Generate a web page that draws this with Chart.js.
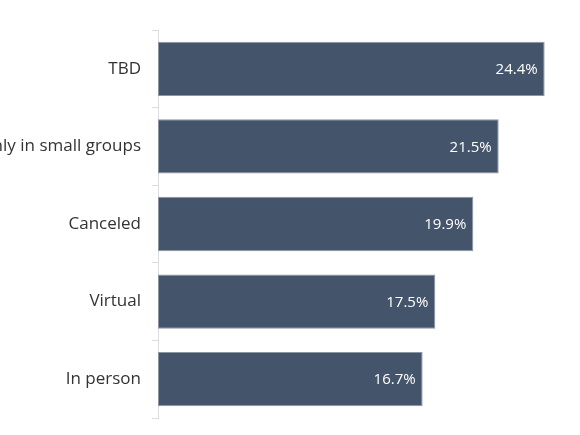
<!DOCTYPE html>
<html><head><meta charset="utf-8">
<script src="https://cdn.jsdelivr.net/npm/chart.js@4"></script>
<style>html,body{margin:0;padding:0;background:#fff;overflow:hidden}canvas{display:block}</style>
</head><body><canvas id="c" width="580" height="435"></canvas>
<script>
const categories = ["TBD", "Only in small groups", "Canceled", "Virtual", "In person"];
const values = [24.4, 21.5, 19.9, 17.5, 16.7];
const valueLabels = ["24.4%", "21.5%", "19.9%", "17.5%", "16.7%"];

const barLabelPlugin = {
  id: 'barLabels',
  afterDatasetsDraw(chart) {
    const ctx = chart.ctx;
    const meta = chart.getDatasetMeta(0);
    ctx.save();
    ctx.fillStyle = '#ffffff';
    ctx.font = '15px "Open Sans", sans-serif';
    ctx.textAlign = 'right';
    ctx.textBaseline = 'middle';
    meta.data.forEach((bar, i) => {
      ctx.fillText(valueLabels[i], bar.x - 7, bar.y + 1);
    });
    ctx.restore();
  }
};

new Chart(document.getElementById('c'), {
  type: 'bar',
  data: {
    labels: categories,
    datasets: [{
      data: values,
      backgroundColor: '#44546a',
      borderColor: '#8b95a3',
      borderWidth: 1,
      borderSkipped: false,
      barPercentage: 0.7,
      categoryPercentage: 1
    }]
  },
  options: {
    indexAxis: 'y',
    responsive: false,
    animation: false,
    devicePixelRatio: 1,
    layout: { padding: { top: 30, bottom: 17, right: 10, left: 0 } },
    plugins: { legend: { display: false }, tooltip: { enabled: false } },
    scales: {
      x: { display: false, min: 0, max: 26 },
      y: {
        afterFit(scale) { scale.width = 158; scale.paddingTop = 0; scale.paddingBottom = 0; },
        grid: { offset: true, drawOnChartArea: false, tickLength: 6, color: '#dddddd' },
        border: { display: true, color: '#dddddd' },
        ticks: { color: '#333333', font: { size: 17, family: '"Open Sans"' }, padding: 11 }
      }
    }
  },
  plugins: [barLabelPlugin]
});
</script></body></html>
